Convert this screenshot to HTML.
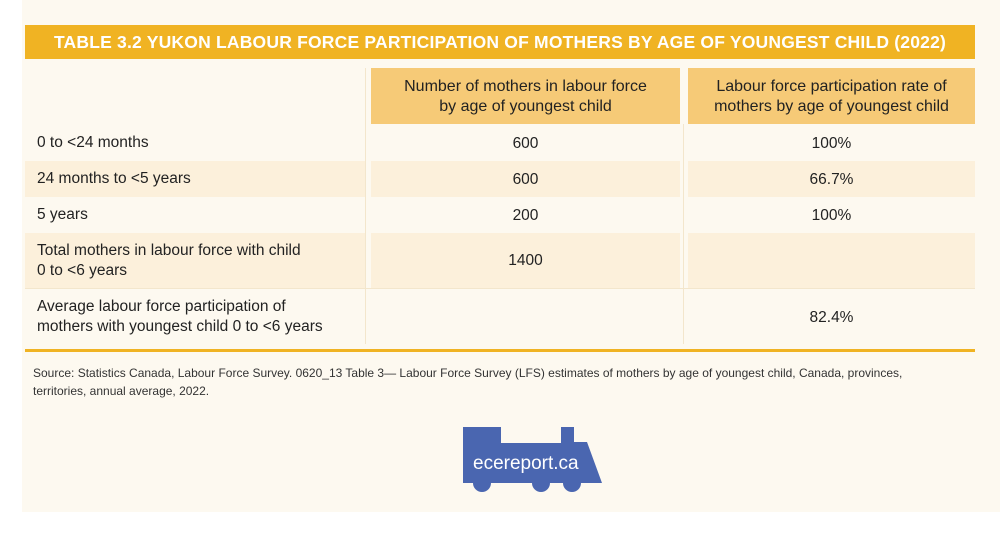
<!DOCTYPE html>
<html><head><style>
body{margin:0;width:1000px;height:537px;background:#fff;font-family:"Liberation Sans",sans-serif;position:relative;overflow:hidden;color:#222}
.card{position:absolute;left:22px;top:0;width:978px;height:512px;background:#fdf9f0}
.a{position:absolute;box-sizing:border-box}
.title{left:25px;top:25px;width:950px;height:34px;background:#f0b323;color:#fff;font-weight:bold;font-size:17.5px;text-align:center;line-height:34px;letter-spacing:0.2px}
.hd{background:#f6ca77;font-size:16px;text-align:center;line-height:20px;padding-top:9px;top:68px;height:56px}
.lab{left:37px;font-size:15.5px;line-height:20px}
.c{font-size:15.5px;text-align:center}
.alt{background:#fcf0db}
.ln{background:#f3e6cc}
</style></head><body>
<div class="card"></div>
<div class="a title">TABLE 3.2 YUKON LABOUR FORCE PARTICIPATION OF MOTHERS BY AGE OF YOUNGEST CHILD (2022)</div>
<div class="a hd" style="left:371px;width:309px">Number of mothers in labour force<br>by age of youngest child</div>
<div class="a hd" style="left:688px;width:287px">Labour force participation rate of<br>mothers by age of youngest child</div>
<div class="a alt" style="left:25px;top:161px;width:340px;height:36px"></div>
<div class="a alt" style="left:371px;top:161px;width:309px;height:36px"></div>
<div class="a alt" style="left:688px;top:161px;width:287px;height:36px"></div>
<div class="a alt" style="left:25px;top:233px;width:340px;height:55px"></div>
<div class="a alt" style="left:371px;top:233px;width:309px;height:55px"></div>
<div class="a alt" style="left:688px;top:233px;width:287px;height:55px"></div>
<div class="a ln" style="left:365px;top:68px;width:1px;height:276px"></div>
<div class="a ln" style="left:683px;top:124px;width:1px;height:220px"></div>
<div class="a ln" style="left:25px;top:288px;width:950px;height:1px"></div>
<div class="a lab" style="top:133px">0 to &lt;24 months</div>
<div class="a lab" style="top:169px">24 months to &lt;5 years</div>
<div class="a lab" style="top:205px">5 years</div>
<div class="a lab" style="top:241px">Total mothers in labour force with child<br>0 to &lt;6 years</div>
<div class="a lab" style="top:297px">Average labour force participation of<br>mothers with youngest child 0 to &lt;6 years</div>
<div class="a c" style="left:371px;width:309px;top:135px">600</div>
<div class="a c" style="left:371px;width:309px;top:171px">600</div>
<div class="a c" style="left:371px;width:309px;top:207px">200</div>
<div class="a c" style="left:371px;width:309px;top:252px">1400</div>
<div class="a c" style="left:688px;width:287px;top:135px">100%</div>
<div class="a c" style="left:688px;width:287px;top:171px">66.7%</div>
<div class="a c" style="left:688px;width:287px;top:207px">100%</div>
<div class="a c" style="left:688px;width:287px;top:309px">82.4%</div>
<div class="a" style="left:25px;top:349px;width:950px;height:3px;background:#f0b323"></div>
<div class="a" style="left:33px;top:364px;width:950px;font-size:12px;line-height:18px;color:#333">Source: Statistics Canada, Labour Force Survey. 0620_13 Table 3— Labour Force Survey (LFS) estimates of mothers by age of youngest child, Canada, provinces,<br>territories, annual average, 2022.</div>
<svg class="a" style="left:0;top:0" width="1000" height="537">
<path d="M463 427H501V443H561V427H574V442H587L602 483H463Z" fill="#4a66b0"/>
<circle cx="482" cy="483" r="9" fill="#4a66b0"/><circle cx="541" cy="483" r="9" fill="#4a66b0"/><circle cx="572" cy="483" r="9" fill="#4a66b0"/>
<text x="473" y="469" fill="#fff" font-family="Liberation Sans,sans-serif" font-size="19">ecereport.ca</text>
</svg>
</body></html>
